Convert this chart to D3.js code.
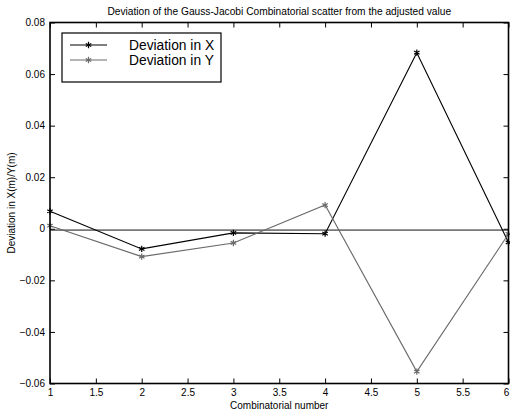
<!DOCTYPE html>
<html><head><meta charset="utf-8">
<script src="https://cdn.jsdelivr.net/npm/d3@7"></script>
<style>body{margin:0;background:#fff}svg{display:block}text{font-family:"Liberation Sans",Arial,Helvetica,sans-serif}</style>
</head><body><svg id="c" width="510" height="410"></svg>
<script>
const combos = [1, 2, 3, 4, 5, 6];
const devX = [0.0068, -0.0078, -0.0016, -0.0019, 0.0683, -0.0053];
const devY = [0.0012, -0.0108, -0.0055, 0.0092, -0.0554, -0.0020];
const refLine = -0.0005;
const xTicks = [1, 1.5, 2, 2.5, 3, 3.5, 4, 4.5, 5, 5.5, 6];
const yTicks = [-0.06, -0.04, -0.02, 0, 0.02, 0.04, 0.06, 0.08];
const seriesNames = ["Deviation in X", "Deviation in Y"];
const seriesColors = ["#000000", "#6a6a6a"];
const title = "Deviation of the Gauss-Jacobi Combinatorial scatter from the adjusted value";
const xLabel = "Combinatorial number";
const yLabel = "Deviation in X(m)/Y(m)";

(function(){
const svg = d3.select("#c");
const m = {l: 50, r: 1.5, t: 22.5, b: 26.5};
const W = 510, H = 410;
const x = d3.scaleLinear().domain([1, 6]).range([m.l, W - m.r]);
const y = d3.scaleLinear().domain([-0.06, 0.08]).range([H - m.b, m.t]);

const fmtY = v => v === 0 ? "0" : d3.format(".2f")(v);
const fmtX = v => String(v);

const tl = 5;
const axB = d3.axisBottom(x).tickValues(xTicks).tickSizeInner(-tl).tickSizeOuter(0).tickPadding(5).tickFormat(fmtX);
const axT = d3.axisTop(x).tickValues(xTicks).tickSizeInner(-tl).tickSizeOuter(0).tickFormat("");
const axL = d3.axisLeft(y).tickValues(yTicks).tickSizeInner(-tl).tickSizeOuter(0).tickPadding(5).tickFormat(fmtY);
const axR = d3.axisRight(y).tickValues(yTicks).tickSizeInner(-tl).tickSizeOuter(0).tickFormat("");

function style(g){
  g.select(".domain").remove();
  g.selectAll(".tick line").attr("stroke", "#000").attr("stroke-width", 1);
  g.selectAll(".tick text").attr("fill", "#000").attr("font-size", 10)
    .attr("font-family", '"Liberation Sans",Arial,sans-serif');
}
const gB = svg.append("g").attr("transform", `translate(0,${H - m.b})`).call(axB).call(style);
gB.selectAll(".tick text").filter(d => d === 6).attr("dx", -2.5);
svg.append("g").attr("transform", `translate(0,${m.t})`).call(axT).call(style);
svg.append("g").attr("transform", `translate(${m.l},0)`).call(axL).call(style);
svg.append("g").attr("transform", `translate(${W - m.r},0)`).call(axR).call(style);

svg.append("line").attr("x1", x(1)).attr("x2", x(6)).attr("y1", y(refLine)).attr("y2", y(refLine))
  .attr("stroke", "#111").attr("stroke-width", 1);

const line = d3.line().x((d, i) => x(combos[i])).y(d => y(d));
const sym = d3.symbol().type(d3.symbolAsterisk).size(28);
[devX, devY].forEach((vals, k) => {
  svg.append("path").attr("d", line(vals)).attr("fill", "none")
    .attr("stroke", seriesColors[k]).attr("stroke-width", 1.1);
  svg.selectAll(null).data(vals).enter().append("path")
    .attr("transform", (d, i) => `translate(${x(combos[i])},${y(d)})`)
    .attr("d", sym).attr("fill", "none").attr("stroke", seriesColors[k]).attr("stroke-width", 1.2);
});

svg.append("rect").attr("x", m.l).attr("y", m.t).attr("width", W - m.r - m.l).attr("height", H - m.b - m.t)
  .attr("fill", "none").attr("stroke", "#000").attr("stroke-width", 1.6);

const lg = svg.append("g");
lg.append("rect").attr("x", 62).attr("y", 33).attr("width", 159).attr("height", 49)
  .attr("fill", "#fff").attr("stroke", "#000").attr("stroke-width", 1.2);
seriesNames.forEach((name, k) => {
  const yy = 45 + k * 15;
  lg.append("line").attr("x1", 70).attr("x2", 107).attr("y1", yy).attr("y2", yy)
    .attr("stroke", seriesColors[k]).attr("stroke-width", 1.1);
  lg.append("path").attr("transform", `translate(88.5,${yy})`).attr("d", sym)
    .attr("fill", "none").attr("stroke", seriesColors[k]).attr("stroke-width", 1.2);
  lg.append("text").attr("x", 129).attr("y", yy + 5).attr("font-size", 13.8).attr("fill", "#000").text(name);
});

svg.append("text").attr("x", (m.l + W - m.r) / 2).attr("y", 15).attr("text-anchor", "middle")
  .attr("font-size", 10.2).attr("fill", "#000").text(title);
svg.append("text").attr("x", (m.l + W - m.r) / 2).attr("y", 409).attr("text-anchor", "middle")
  .attr("font-size", 10).attr("fill", "#000").text(xLabel);
svg.append("text").attr("transform", `translate(15,${(m.t + H - m.b) / 2}) rotate(-90)`)
  .attr("text-anchor", "middle").attr("font-size", 10).attr("fill", "#000").text(yLabel);
})();
</script></body></html>
